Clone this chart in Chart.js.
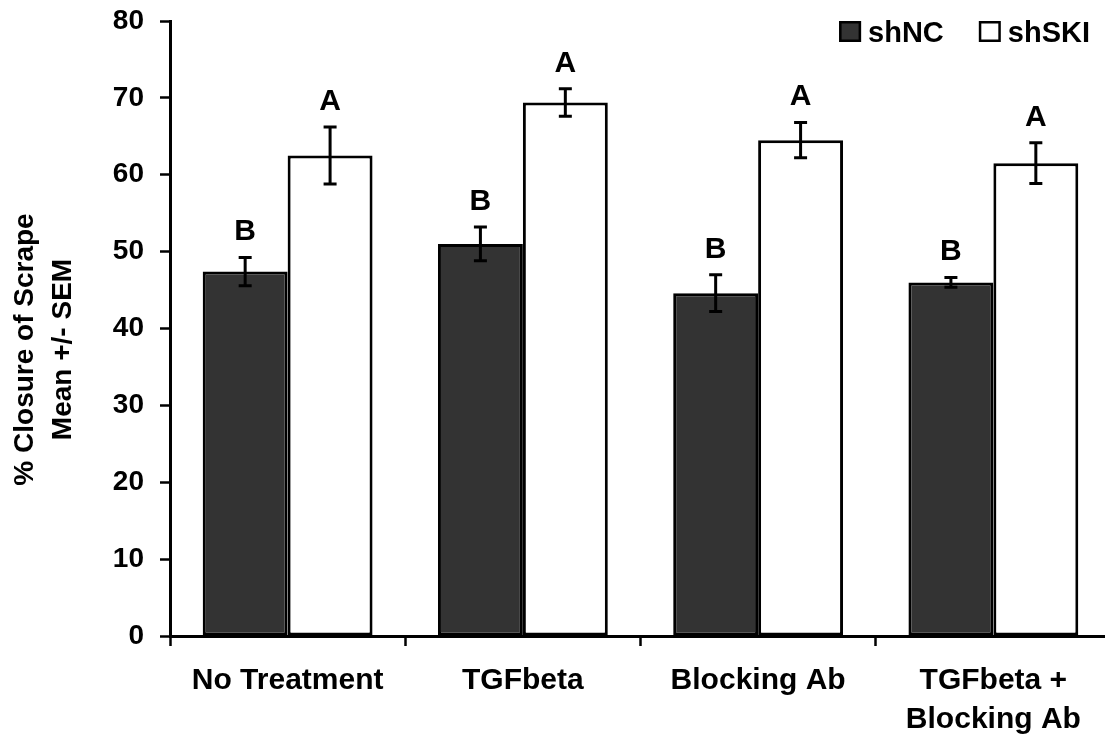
<!DOCTYPE html>
<html>
<head>
<meta charset="utf-8">
<script src="https://cdn.jsdelivr.net/npm/chart.js@4"></script>
<style>
html,body{margin:0;padding:0;background:#fff;overflow:hidden;}
#wrap{width:1112px;height:736px;}
</style>
</head>
<body>
<div id="wrap"><canvas id="c" width="1112" height="736"></canvas></div>
<script>
const categories = ["No Treatment", "TGFbeta", "Blocking Ab", ["TGFbeta +", "Blocking Ab"]];
const seriesNames = ["shNC", "shSKI"];
const shNC = [47.4, 51.0, 44.6, 46.0];
const shNCErr = [1.85, 2.2, 2.4, 0.65];
const shSKI = [62.5, 69.4, 64.5, 61.5];
const shSKIErr = [3.7, 1.8, 2.3, 2.65];
const sigLetters = [["B", "B", "B", "B"], ["A", "A", "A", "A"]];
const yTitleLines = ["% Closure of Scrape", "Mean +/- SEM"];
const yTicks = [0, 10, 20, 30, 40, 50, 60, 70, 80];

const FONT = "'Liberation Sans', Arial, Helvetica, sans-serif";
const errs = [shNCErr, shSKIErr];

const errorBarPlugin = {
  id: 'errbars',
  afterDatasetsDraw(chart) {
    const ctx = chart.ctx;
    const ys = chart.scales.y;
    ctx.save();
    chart.data.datasets.forEach((ds, i) => {
      const meta = chart.getDatasetMeta(i);
      meta.data.forEach((bar, j) => {
        const v = ds.data[j], e = errs[i][j];
        const yt = ys.getPixelForValue(v + e);
        const yb = ys.getPixelForValue(v - e);
        const x = bar.x;
        ctx.strokeStyle = '#000';
        ctx.lineWidth = 3;
        ctx.beginPath();
        ctx.moveTo(x, yt); ctx.lineTo(x, yb);
        ctx.moveTo(x - 6.5, yt); ctx.lineTo(x + 6.5, yt);
        ctx.moveTo(x - 6.5, yb); ctx.lineTo(x + 6.5, yb);
        ctx.stroke();
        ctx.fillStyle = '#000';
        ctx.font = 'bold 30px ' + FONT;
        ctx.textAlign = 'center';
        ctx.textBaseline = 'alphabetic';
        ctx.fillText(sigLetters[i][j], x, yt - 17);
      });
    });
    ctx.restore();
  }
};

const customLegend = {
  id: 'customLegend',
  afterDraw(chart) {
    const ctx = chart.ctx;
    ctx.save();
    ctx.font = 'bold 29px ' + FONT;
    const box = 22, gap = 7, itemGap = 35;
    const widths = chart.data.datasets.map(d => ctx.measureText(d.label).width);
    let total = 0;
    widths.forEach((w, i) => { total += box + gap + w + (i < widths.length - 1 ? itemGap : 0); });
    let x = chart.chartArea.right - 21 - total;
    const top = 21;
    chart.data.datasets.forEach((d, i) => {
      ctx.fillStyle = d.backgroundColor;
      ctx.fillRect(x, top, box, box - 1);
      ctx.strokeStyle = '#000';
      ctx.lineWidth = 2.5;
      ctx.strokeRect(x + 1.25, top + 1.25, box - 2.5, box - 3.5);
      ctx.fillStyle = '#000';
      ctx.textAlign = 'left';
      ctx.textBaseline = 'alphabetic';
      ctx.fillText(d.label, x + box + gap, top + 21);
      x += box + gap + widths[i] + itemGap;
    });
    ctx.restore();
  }
};

const yTitle = {
  id: 'yTitle',
  afterDraw(chart) {
    const ctx = chart.ctx;
    const ca = chart.chartArea;
    const cy = (ca.top + ca.bottom) / 2 + 21;
    const baselines = [33, 71];
    ctx.save();
    ctx.font = 'bold 28px ' + FONT;
    ctx.fillStyle = '#000';
    ctx.textAlign = 'center';
    ctx.textBaseline = 'alphabetic';
    yTitleLines.forEach((t, i) => {
      ctx.save();
      ctx.translate(baselines[i], cy);
      ctx.rotate(-Math.PI / 2);
      ctx.fillText(t, 0, 0);
      ctx.restore();
    });
    ctx.restore();
  }
};

new Chart(document.getElementById('c'), {
  type: 'bar',
  data: {
    labels: categories,
    datasets: [
      { label: seriesNames[0], data: shNC, backgroundColor: '#333333', borderColor: '#000', borderWidth: 3, borderSkipped: false },
      { label: seriesNames[1], data: shSKI, backgroundColor: '#ffffff', borderColor: '#000', borderWidth: 3, borderSkipped: false }
    ]
  },
  options: {
    responsive: false,
    animation: false,
    devicePixelRatio: 1,
    layout: { padding: { top: 21, right: 1, left: 0, bottom: 0 } },
    categoryPercentage: 0.722,
    barPercentage: 1.0,
    plugins: {
      legend: { display: false },
      tooltip: { enabled: false }
    },
    scales: {
      x: {
        offset: true,
        grid: { display: true, offset: true, drawOnChartArea: false, drawTicks: true, tickLength: 10, tickColor: '#000', tickWidth: 2.5 },
        border: { display: true, color: '#000', width: 3 },
        ticks: { color: '#000', padding: 15, maxRotation: 0, autoSkip: false, font: { family: FONT, size: 30, weight: 'bold', lineHeight: 1.3 } },
        afterFit(scale) { scale.height = 100; scale.paddingLeft = 0; scale.paddingRight = 0; }
      },
      y: {
        min: 0, max: 80,
        afterBuildTicks(scale) { scale.ticks = yTicks.map(v => ({ value: v })); },
        grid: { display: true, drawOnChartArea: false, drawTicks: true, tickLength: 10, tickColor: '#000', tickWidth: 2.5 },
        border: { display: true, color: '#000', width: 3 },
        ticks: { color: '#000', padding: 16, font: { family: FONT, size: 28, weight: 'bold' } },
        afterFit(scale) { scale.width = 170; scale.paddingTop = 0; scale.paddingBottom = 0; }
      }
    }
  },
  plugins: [errorBarPlugin, customLegend, yTitle]
});
</script>
</body>
</html>
